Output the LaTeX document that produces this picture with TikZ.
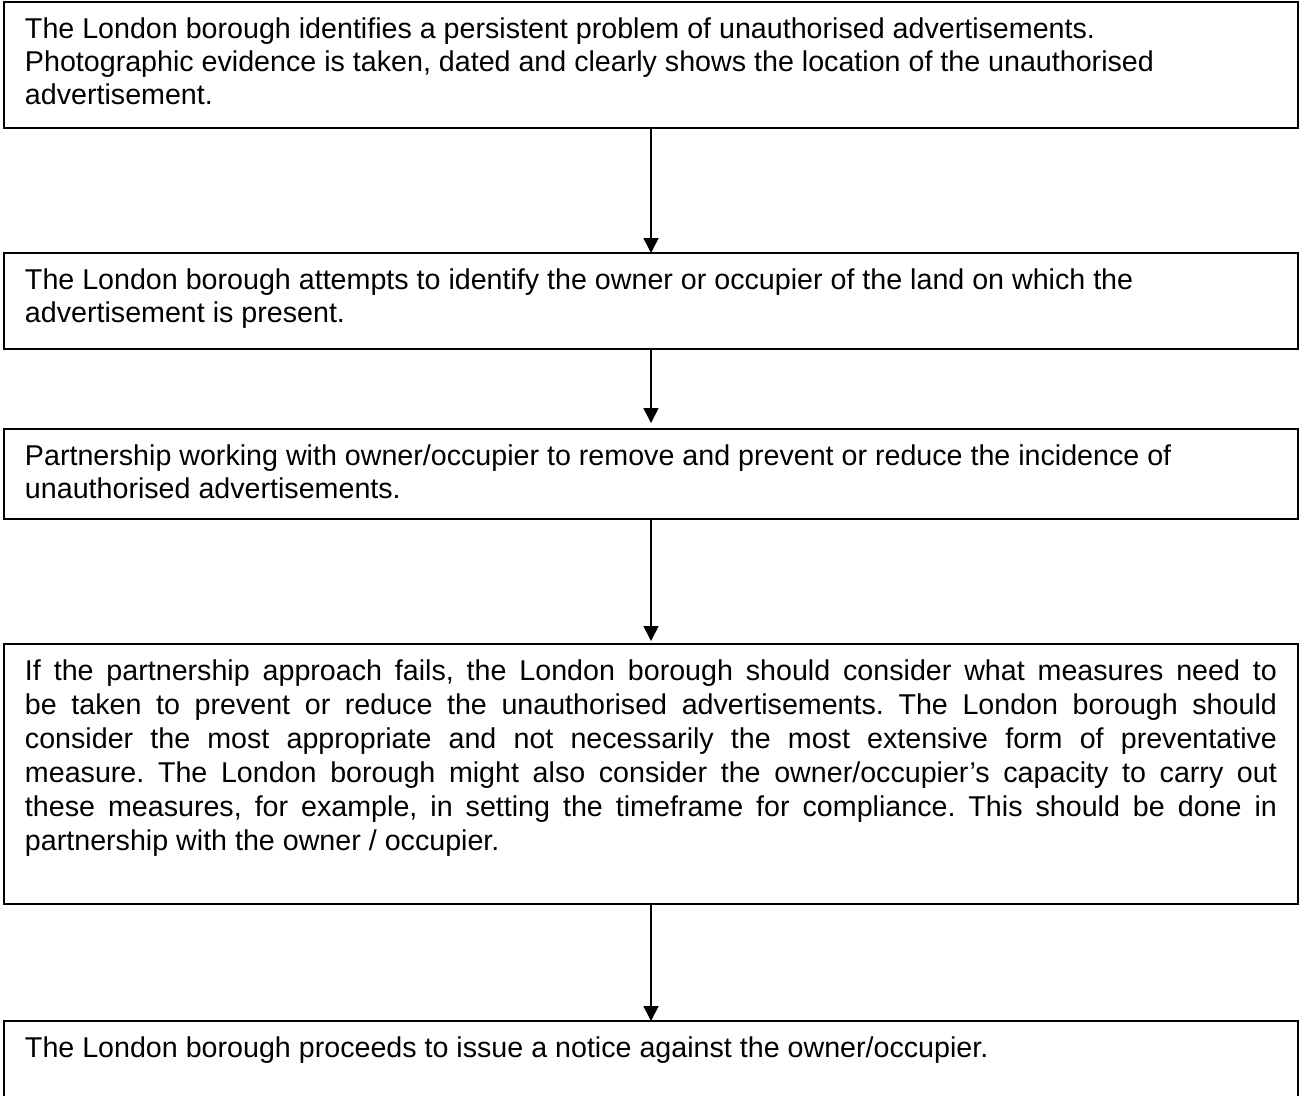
\documentclass[tikz,border=0pt]{standalone}
\usepackage{fontspec}
\setmainfont{Liberation Sans}
\usepackage{tikz}
\usetikzlibrary{arrows.meta,positioning}
\frenchspacing

\begin{document}
\begin{tikzpicture}[
    auto,
    node distance=2.5cm,
    >={Triangle[length=0.3cm,width=0.3cm]},
    font=\fontsize{16.3}{18.6}\selectfont,
    stepbox/.style={
		rectangle,
		draw=black,
		line width=1.1pt,
		outer sep=0pt,
		inner xsep=0.42cm,
		inner ysep=0.32cm,
		fill=white
	},
	flow/.style={
		line width=0.9pt
	}
  ]
  \useasboundingbox (0,0) rectangle (26.02,-21.9);
  \clip (0,0) rectangle (26.02,-21.9);
    % We start by placing the blocks

  \node [stepbox, anchor=north west] (step1) at (0.08,-0.04)
 {\parbox[c][1.88cm][t]{25.04cm}{\raggedright
  The London borough identifies a persistent problem of unauthorised advertisements.\\
  Photographic evidence is taken, dated and clearly shows the location of the unauthorised\\
  advertisement.}};

  \node [stepbox, below=of step1] (step2)
 {\parbox[c][1.28cm][t]{25.04cm}{\raggedright
  The London borough attempts to identify the owner or occupier of the land on which the\\
  advertisement is present.}};

  \node [stepbox, below=1.6cm of step2] (step3)
 {\parbox[c][1.16cm][t]{25.04cm}{\raggedright
  Partnership working with owner/occupier to remove and prevent or reduce the incidence of\\
  unauthorised advertisements.}};

  \node [stepbox, below=of step3] (step4)
 {\parbox[c][4.56cm][t]{25.04cm}{\fontsize{16.3}{19.3}\selectfont
  If the partnership approach fails, the London borough should consider what measures need to\linebreak
  be taken to prevent or reduce the unauthorised advertisements. The London borough should\linebreak
  consider the most appropriate and not necessarily the most extensive form of preventative\linebreak
  measure. The London borough might also consider the owner/occupier’s capacity to carry out\linebreak
  these measures, for example, in setting the timeframe for compliance. This should be done in\linebreak
  partnership with the owner / occupier.}};

  \node [stepbox, below=2.34cm of step4] (step5)
 {\parbox[c][1.4cm][t]{25.04cm}{\raggedright
  The London borough proceeds to issue a notice against the owner/occupier.}};

 \draw [flow,->] (step1) -- (step2);
 \draw [flow,->,shorten >=0.12cm] (step2) -- (step3);
 \draw [flow,->,shorten >=0.06cm] (step3) -- (step4);
 \draw [flow,->] (step4) -- (step5);

\end{tikzpicture}
\end{document}
